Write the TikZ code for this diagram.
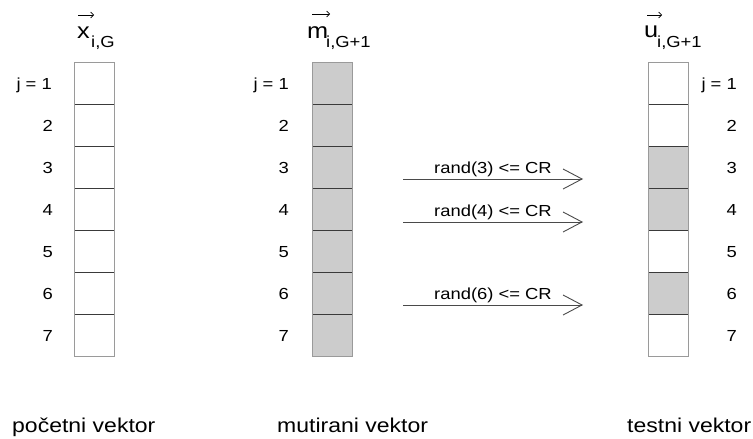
\documentclass[tikz,border=0pt]{standalone}
\usepackage{fontspec}
\setmainfont{Liberation Sans}[FakeStretch=1.15]
\usetikzlibrary{arrows.meta}
\definecolor{cellgray}{HTML}{CCCCCC}
\definecolor{framegray}{HTML}{9A9A9A}
\definecolor{dividergray}{HTML}{3A3A3A}
\definecolor{arrowgray}{HTML}{4A4A4A}
\begin{document}
\begin{tikzpicture}[x=1pt,y=-1pt,
  cell/.style={draw=dividergray, line width=0.9pt, minimum width=40pt, minimum height=42pt, inner sep=0pt, outer sep=0pt},
  shaded/.style={cell, fill=cellgray},
  frameline/.style={draw=framegray, line width=0.9pt},
  idx/.style={anchor=base east, inner sep=0pt, font=\fontsize{16}{19}\selectfont},
  lbl/.style={anchor=base, inner sep=0pt, font=\fontsize{16}{19}\selectfont},
  caption/.style={anchor=base west, inner sep=0pt, font=\fontsize{20}{24}\selectfont},
  hdr/.style={anchor=base west, inner sep=0pt, font=\fontsize{22}{25}\selectfont},
  hdrsub/.style={anchor=base west, inner sep=0pt, font=\fontsize{16}{18}\selectfont},
  hdrarrow/.style={draw=black, line width=0.6pt, -{Straight Barb[length=3pt,width=6pt]}},
  conn/.style={draw=arrowgray, line width=0.9pt, -{Straight Barb[length=19pt,width=20pt,line width=0.9pt]}}
]
\useasboundingbox (0,0) rectangle (753,439);

% columns of cells
\foreach \k in {1,...,7} {
  \node[cell] (L\k) at (94,{41+42*\k}) {};
  \node[shaded] (M\k) at (332.5,{41+42*\k}) {};
}
\foreach \k in {1,2,5,7} {
  \node[cell] (R\k) at (668.5,{41+42*\k}) {};
}
\foreach \k in {3,4,6} {
  \node[shaded] (R\k) at (668.5,{41+42*\k}) {};
}
\draw[frameline] (L1.north west) rectangle (L7.south east);
\draw[frameline] (M1.north west) rectangle (M7.south east);
\draw[frameline] (R1.north west) rectangle (R7.south east);

% index labels
\node[idx] (lj1) at (52,89) {j = 1};
\node[idx] (mj1) at (289,89) {j = 1};
\node[idx] (rj1) at (737,89) {j = 1};
\foreach \k in {2,...,7} {
  \node[idx] (li\k) at (53,{47+42*\k}) {\k};
  \node[idx] (mi\k) at (289,{47+42*\k}) {\k};
  \node[idx] (ri\k) at (737,{47+42*\k}) {\k};
}

% headers
\node[hdr] (hx) at (77,38) {x};
\node[hdrsub] (hxs) at (91,47) {i,G};
\coordinate (xa1) at (78,15);
\coordinate (xa2) at (94,15);
\draw[hdrarrow] (xa1) -- (xa2);

\node[hdr] (hm) at (307,38) {m};
\node[hdrsub] (hms) at (326,47) {i,G+1};
\coordinate (ma1) at (312,14);
\coordinate (ma2) at (330,14);
\draw[hdrarrow] (ma1) -- (ma2);

\node[hdr] (hu) at (644,37) {u};
\node[hdrsub] (hus) at (657,47) {i,G+1};
\coordinate (ua1) at (647,15);
\coordinate (ua2) at (662,15);
\draw[hdrarrow] (ua1) -- (ua2);

% crossover arrows
\coordinate (s3) at (403,179);
\coordinate (e3) at (583,179);
\coordinate (s4) at (403,222);
\coordinate (e4) at (583,222);
\coordinate (s6) at (403,305);
\coordinate (e6) at (583,305);
\draw[conn] (s3) -- (e3);
\draw[conn] (s4) -- (e4);
\draw[conn] (s6) -- (e6);
\node[lbl] (t3) at (493,173) {rand(3) <= CR};
\node[lbl] (t4) at (493,216) {rand(4) <= CR};
\node[lbl] (t6) at (493,299) {rand(6) <= CR};

% captions
\node[caption] (c1) at (12,432) {početni vektor};
\node[caption] (c2) at (277,432) {mutirani vektor};
\node[caption] (c3) at (627,432) {testni vektor};
\end{tikzpicture}
\end{document}
